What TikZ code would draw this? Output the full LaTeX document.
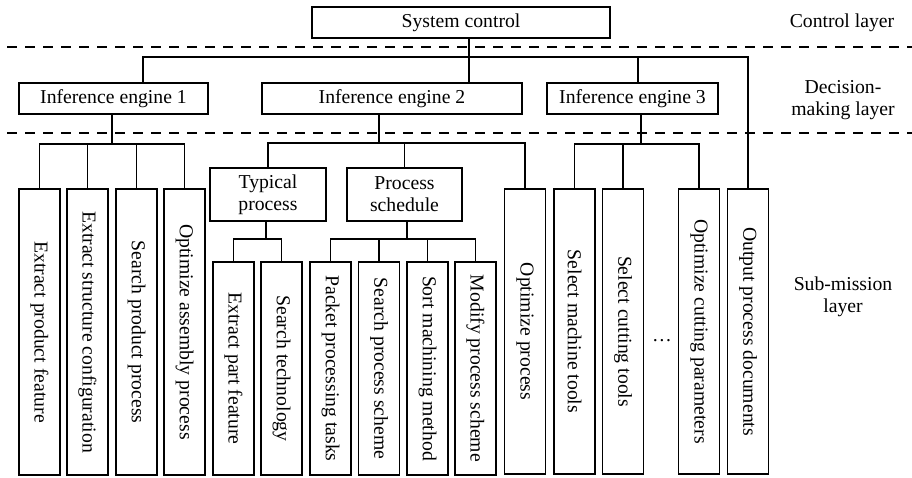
\documentclass[tikz,border=0pt]{standalone}
\usepackage{fontspec}
\setmainfont{Liberation Serif}
\begin{document}
\begin{tikzpicture}[x=1pt,y=-1pt,
  txt/.style={font=\fontsize{19.7}{22}\selectfont},
  box/.style={draw,line width=1.9pt,inner sep=0pt,txt,align=center},
  vbox/.style={box,rotate=-90,minimum height=41pt},
  link/.style={line width=1.7pt},
  layerline/.style={line width=1.5pt,dash pattern=on 10pt off 8pt},
  side/.style={txt,align=center}]
\useasboundingbox (0,0) rectangle (912,477);

% layer separators
\coordinate (d1l) at (7,47);   \coordinate (d1r) at (912,47);
\coordinate (d2l) at (7,133);  \coordinate (d2r) at (912,133);
\draw[layerline] (d1l) -- (d1r);
\draw[layerline] (d2l) -- (d2r);

% layer names
\node[side] (lc) at (842,23) {Control layer};
\node[side,text depth=0pt] (ld) at (843,98) {Decision-\\making layer};
\node[side] (ls) at (843,297) {Sub-mission\\layer};

% control and decision layers
\node[box,minimum width=298pt,minimum height=31pt] (sys) at (461,22.5) {System control};
\node[box,minimum width=189pt,minimum height=31pt] (ie1) at (113.5,98.5) {Inference engine 1};
\node[box,minimum width=260pt,minimum height=31pt] (ie2) at (392,98.5) {Inference engine 2};
\node[box,minimum width=171pt,minimum height=31pt] (ie3) at (632.5,98.5) {Inference engine 3};

% intermediate task groups
\node[box,minimum width=116pt,minimum height=53pt] (tp) at (268,194.5) {Typical\\process};
\node[box,minimum width=115pt,minimum height=53pt] (ps) at (404.5,194.5) {Process\\schedule};

% sub-mission tasks (text runs top to bottom)
\node[vbox,minimum width=286pt] (b1) at (39.5,332) {Extract product feature};
\node[vbox,minimum width=286pt] (b2) at (87.5,332) {Extract structure configuration};
\node[vbox,minimum width=286pt] (b3) at (136.5,332) {Search product process};
\node[vbox,minimum width=286pt] (b4) at (184.5,332) {Optimize assembly process};

\node[vbox,minimum width=213pt] (c1) at (233.5,368.5) {Extract part feature};
\node[vbox,minimum width=213pt] (c2) at (281.5,368.5) {Search technology};

\node[vbox,minimum width=213pt] (s1) at (330.5,368.5) {Packet processing tasks};
\node[vbox,minimum width=213pt] (s2) at (379,368.5) {Search process scheme};
\node[vbox,minimum width=213pt] (s3) at (427.5,368.5) {Sort machining method};
\node[vbox,minimum width=213pt] (s4) at (475.5,368.5) {Modify process scheme};

\node[vbox,minimum width=285pt] (op) at (525,331.5) {Optimize process};

\node[vbox,minimum width=285pt] (e1) at (574.5,331.5) {Select machine tools};
\node[vbox,minimum width=285pt] (e2) at (623,331.5) {Select cutting tools};
\node[txt] (dots) at (662,341) {\dots};
\node[vbox,minimum width=285pt] (e3) at (699,331.5) {Optimize cutting parameters};
\node[vbox,minimum width=285pt] (out) at (748,331.5) {Output process documents};

% junction points of the tree
\coordinate (jsys) at (469,57);
\coordinate (j1) at (112,144);
\coordinate (j2) at (379,143);
\coordinate (j3) at (641,144);
\coordinate (jt) at (266,239);
\coordinate (js) at (407,239);
\coordinate (x1) at (143,0);
\coordinate (x3) at (638,0);

% system control -> engines and output
\draw[link] (sys.south -| jsys) -- (ie2.north -| jsys);
\draw[link] (ie1.north -| x1) |- (out.west |- jsys) -- (out.west);
\draw[link] (ie3.north -| x3) -- (x3 |- jsys);

% inference engine 1
\draw[link] (ie1.south -| j1) -- (j1);
\draw[link] (b1.west) -- (b1.west |- j1) -- (b4.west |- j1) -- (b4.west);
\draw[link] (b2.west) -- (b2.west |- j1);
\draw[link] (b3.west) -- (b3.west |- j1);

% inference engine 2
\draw[link] (ie2.south -| j2) -- (j2);
\draw[link] (tp.north) -- (tp.north |- j2) -- (op.west |- j2) -- (op.west);
\draw[link] (ps.north) -- (ps.north |- j2);

% typical process
\draw[link] (tp.south -| jt) -- (jt);
\draw[link] (c1.west) -- (c1.west |- jt) -- (c2.west |- jt) -- (c2.west);

% process schedule
\draw[link] (ps.south -| js) -- (js);
\draw[link] (s1.west) -- (s1.west |- js) -- (s4.west |- js) -- (s4.west);
\draw[link] (s2.west) -- (s2.west |- js);
\draw[link] (s3.west) -- (s3.west |- js);

% inference engine 3
\draw[link] (ie3.south -| j3) -- (j3);
\draw[link] (e1.west) -- (e1.west |- j3) -- (e3.west |- j3) -- (e3.west);
\draw[link] (e2.west) -- (e2.west |- j3);
\end{tikzpicture}
\end{document}
